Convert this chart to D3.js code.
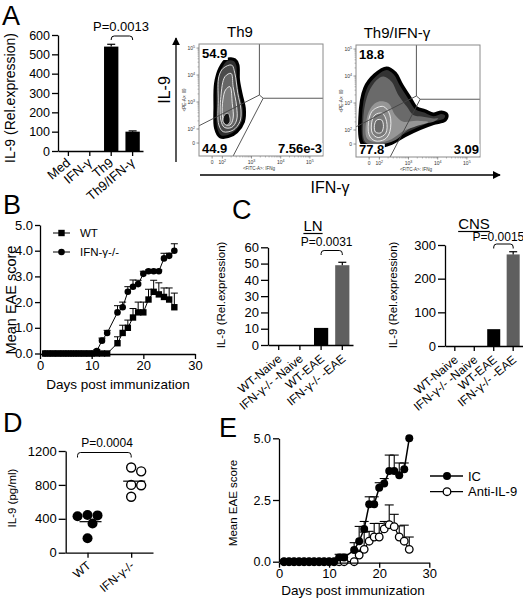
<!DOCTYPE html>
<html><head><meta charset="utf-8">
<script src="https://cdn.jsdelivr.net/npm/d3@7"></script>
<style>
body{margin:0;background:#fff;}
svg{display:block;font-family:"Liberation Sans",Arial,Helvetica,sans-serif;}
</style></head><body>
<svg id="fig" width="523" height="601"></svg>
<script>
// ---------------- DATA ----------------
// Panel A (bar)
const aCategories = ["Med", "IFN-γ", "Th9", "Th9/IFN-γ"];
const aValues = [0, 0, 540, 100];
const aErrors = [0, 0, 12, 4];
const aTicks = [0, 100, 200, 300, 400, 500, 600];
const aPText = "P=0.0013";

// Panel A (flow cytometry) – axes in log-decade units
const flowTitles = ["Th9", "Th9/IFN-γ"];
const flowQuadrants = [["54.9", "44.9", "7.56e-3"], ["18.8", "77.8", "3.09"]];
const flowXTicks = [{v: 1.65, e: null}, {v: 2, e: "2"}, {v: 3, e: "3"}, {v: 4, e: "4"}, {v: 5, e: "5"}];
const flowYTicks = [{v: 1.48, e: null}, {v: 2, e: "2"}, {v: 3, e: "3"}, {v: 4, e: "4"}, {v: 5, e: "5"}];
const flowXDomain = [1.2, 5.45];
const flowYDomain = [1.0, 5.15];
const flowGates = [
  [[1.2, 2.12], [3.27, 3.26], [3.40, 3.14], [5.45, 3.14]],
  [[3.27, 3.26], [3.27, 5.15]],
  [[3.40, 3.14], [2.37, 1.0]]
];
const th9Contours = [
  [[1.92,4.25],[2.15,4.58],[2.43,4.56],[2.53,4.37],[2.55,3.82],[2.66,3.20],[2.75,2.77],[2.72,2.27],[2.49,1.90],[2.20,1.72],[1.92,1.72],[1.77,2.03],[1.75,2.83],[1.77,3.69]],
  [[2.03,4.25],[2.32,4.37],[2.43,4.06],[2.53,3.32],[2.64,2.71],[2.60,2.27],[2.37,1.96],[2.03,1.90],[1.88,2.15],[1.86,3.07],[1.88,3.94]],
  [[2.09,3.94],[2.30,4.06],[2.37,3.57],[2.49,2.83],[2.49,2.33],[2.32,2.06],[2.07,2.06],[1.95,2.33],[1.95,3.20]],
  [[2.11,3.45],[2.26,3.57],[2.34,2.95],[2.37,2.40],[2.26,2.15],[2.07,2.19],[2.00,2.52],[2.02,3.08]],
  [[2.07,2.52],[2.20,2.58],[2.26,2.27],[2.15,2.15],[2.03,2.27]]
];
const th9IfnContours = [
  [[2.25,4.29],[2.54,4.10],[2.76,3.67],[3.05,3.18],[3.28,2.81],[3.56,2.71],[3.85,2.58],[4.13,2.66],[4.31,2.56],[4.25,2.37],[3.85,2.25],[3.39,2.06],[2.88,1.80],[2.42,1.52],[1.85,1.38],[1.42,1.50],[1.34,2.43],[1.51,3.55],[1.85,4.04]],
  [[2.14,3.98],[2.42,3.79],[2.65,3.30],[2.94,2.87],[3.16,2.56],[3.45,2.50],[3.85,2.43],[4.02,2.43],[3.85,2.31],[3.39,2.23],[2.99,2.02],[2.54,1.62],[1.96,1.46],[1.52,1.56],[1.45,2.43],[1.62,3.36],[1.91,3.85]],
  [[1.96,3.05],[2.31,2.99],[2.54,2.56],[2.82,2.31],[3.28,2.34],[3.68,2.29],[3.28,2.15],[2.82,1.96],[2.42,1.66],[1.96,1.55],[1.58,1.69],[1.57,2.43],[1.74,2.87]],
  [[1.79,2.74],[2.14,2.87],[2.36,2.56],[2.36,1.94],[2.19,1.66],[1.85,1.60],[1.65,1.82],[1.65,2.43]],
  [[1.85,2.56],[2.10,2.62],[2.25,2.31],[2.22,1.88],[1.96,1.72],[1.76,1.88],[1.74,2.29]],
  [[1.91,2.37],[2.08,2.37],[2.14,2.13],[2.06,1.90],[1.87,1.92],[1.83,2.16]]
];

// Panel B
const bDays  = [1,2,3,4,5,6,7,8,9,10,11,12,13,15,16,17,18,19,20,21,22,23,24,25,26];
const bWT    = [0,0,0,0,0,0,0,0,0,0,0,0,0,0.4,0.8,1.0,1.4,1.6,1.6,2.1,2.4,2.3,2.2,2.1,1.8];
const bWTErr = [0,0,0,0,0,0,0,0,0,0,0,0,0,0.25,0.3,0.3,0.35,0.4,0.4,0.4,0.45,0.45,0.35,0.45,0.55];
const bKO    = [0,0,0,0,0,0,0,0,0,0,0.1,0.5,0.8,1.6,1.8,2.4,2.6,2.7,3.1,3.2,3.2,3.2,3.7,3.8,4.0];
const bKOErr = [0,0,0,0,0,0,0,0,0,0,0.05,0.1,0.1,0.26,0.2,0.2,0.26,0.15,0.1,0.05,0.05,0.05,0.2,0.1,0.27];
const bSeries = ["WT", "IFN-γ-/-"];
const bXTicks = [0, 10, 20, 30];
const bYTicks = [0, 1, 2, 3, 4, 5];

// Panel C
const cCategories = ["WT-Naive", "IFN-γ-/- -Naive", "WT-EAE", "IFN-γ-/- -EAE"];
const cLN = [0, 0, 10.5, 49];
const cLNErr = [0, 0, 0, 1.8];
const cLNTicks = [0, 10, 20, 30, 40, 50, 60];
const cCNS = [0, 0, 50, 272];
const cCNSErr = [0, 0, 0, 8];
const cCNSTicks = [0, 100, 200, 300];
const cPLN = "P=0.0031";
const cPCNS = "P=0.0015";

// Panel D
const dGroups = ["WT", "IFN-γ-/-"];
const dWT = [445, 440, 430, 345, 170];
const dKO = [1005, 960, 800, 795, 660];
const dTicks = [0, 400, 800, 1200];
const dPText = "P=0.0004";

// Panel E
const eDays     = [1,2,3,4,5,6,7,8,9,10,11,12,13,15,16,17,18,19,20,21,22,23,24,25,26];
const eIC       = [0,0,0,0,0,0,0,0,0,0,0,0.17,0.17,0.47,0.83,1.33,2.33,2.33,3.0,3.17,3.67,3.67,3.5,3.75,5.0];
const eICErr    = [0,0,0,0,0,0,0,0,0,0,0,0.13,0.13,0.3,0.6,0.3,0.3,0.3,0.2,0.2,0.65,0.65,0.5,0.25,0];
const eAnti     = [0,0,0,0,0,0,0,0,0,0,0,0,0,0,0.27,0.5,0.83,1.0,1.0,1.33,1.5,1.42,1.0,0.83,0.5];
const eAntiErr  = [0,0,0,0,0,0,0,0,0,0,0,0,0,0,0.2,0.7,0.4,0.55,0.55,0.3,0.8,0.5,0.45,0.65,0.5];
const eSeries = ["IC", "Anti-IL-9"];
const eXTicks = [0, 10, 20, 30];
const eYTicks = [0, 2.5, 5.0];

// ---------------- DRAWING ----------------
const svg = d3.select("#fig");

function styleAxis(g, fs) {
  g.selectAll("path.domain").attr("stroke", "#000").attr("stroke-width", 1.3);
  g.selectAll(".tick line").attr("stroke", "#000").attr("stroke-width", 1.3);
  g.selectAll(".tick text").attr("font-size", fs).attr("fill", "#000")
    .attr("font-family", "Liberation Sans, Arial, Helvetica, sans-serif");
}
function panelLabel(t, x, y) {
  svg.append("text").attr("x", x).attr("y", y).attr("font-size", 27).text(t);
}
function yTitle(t, x, y, fs) {
  svg.append("text").attr("transform", `translate(${x},${y}) rotate(-90)`)
    .attr("text-anchor", "middle").attr("font-size", fs).text(t);
}
function rotLabels(scale, labels, axisY, fs, dx, dy) {
  labels.forEach(l => {
    const x = scale(l) + (scale.bandwidth ? scale.bandwidth() / 2 : 0);
    svg.append("text").attr("transform", `translate(${x + dx},${axisY + dy}) rotate(-40)`)
      .attr("text-anchor", "end").attr("font-size", fs).text(l);
  });
}
function bracket(x1, x2, y, h) {
  const r = 3;
  const p = d3.path();
  p.moveTo(x1, y + h);
  p.lineTo(x1, y + r);
  p.quadraticCurveTo(x1, y, x1 + r, y);
  p.lineTo(x2 - r, y);
  p.quadraticCurveTo(x2, y, x2, y + r);
  p.lineTo(x2, y + h);
  svg.append("path").attr("d", p.toString()).attr("fill", "none").attr("stroke", "#000").attr("stroke-width", 1);
}
function errBars(g, xs, ys, es, xf, yf, cap, w) {
  xs.forEach((x, i) => {
    if (!es[i]) return;
    const cx = xf(x), y0 = yf(ys[i]), y1 = yf(ys[i] + es[i]);
    g.append("line").attr("x1", cx).attr("x2", cx).attr("y1", y0).attr("y2", y1).attr("stroke", "#000").attr("stroke-width", w);
    g.append("line").attr("x1", cx - cap).attr("x2", cx + cap).attr("y1", y1).attr("y2", y1).attr("stroke", "#000").attr("stroke-width", w);
  });
}

// ===== Panel A: bar chart =====
panelLabel("A", 2, 25);
const yA = d3.scaleLinear().domain([0, 600]).range([151, 35]);
const xA = d3.scaleBand().domain(aCategories).range([58, 143]).paddingInner(0.33).paddingOuter(0.15);
const gA = svg.append("g");
aCategories.forEach((c, i) => {
  if (!aValues[i]) return;
  gA.append("rect").attr("x", xA(c)).attr("width", xA.bandwidth())
    .attr("y", yA(aValues[i])).attr("height", yA(0) - yA(aValues[i])).attr("fill", "#000");
});
errBars(gA, aCategories, aValues, aErrors, c => xA(c) + xA.bandwidth() / 2, yA, 4, 1.2);
const axAy = svg.append("g").attr("transform", "translate(58,0)")
  .call(d3.axisLeft(yA).tickValues(aTicks).tickSize(6).tickSizeOuter(0).tickPadding(2));
styleAxis(axAy, 12.5);
const axAx = svg.append("g").attr("transform", "translate(0,151)")
  .call(d3.axisBottom(xA).tickSize(5).tickSizeOuter(0).tickFormat(""));
styleAxis(axAx, 12);
rotLabels(xA, aCategories, 151, 13, 3, 13);
yTitle("IL-9 (Rel.expression)", 15, 98, 14);
bracket(xA("Th9") + xA.bandwidth() / 2, xA("Th9/IFN-γ") + xA.bandwidth() / 2, 36, 4);
svg.append("text").attr("x", 121).attr("y", 31).attr("text-anchor", "middle").attr("font-size", 13).text(aPText);

// ===== Panel A: flow plots =====
const flowW = 124, flowH = 112;
function flowPlot(ox, oy, contours, fills, strokes, sw, quad, title) {
  const fx = d3.scaleLinear().domain(flowXDomain).range([ox, ox + flowW]);
  const fy = d3.scaleLinear().domain(flowYDomain).range([oy + flowH, oy]);
  const g = svg.append("g");
  const cid = "clip" + ox;
  g.append("clipPath").attr("id", cid).append("rect").attr("x", ox).attr("y", oy).attr("width", flowW).attr("height", flowH);
  const cg = g.append("g").attr("clip-path", `url(#${cid})`);
  const line = d3.line().x(d => fx(d[0])).y(d => fy(d[1])).curve(d3.curveCatmullRomClosed.alpha(0.5));
  contours.forEach((c, i) => {
    cg.append("path").attr("d", line(c)).attr("fill", fills[i]).attr("stroke", strokes[i])
      .attr("stroke-width", sw[i]).attr("stroke-linejoin", "round");
  });
  const gl = d3.line().x(d => fx(d[0])).y(d => fy(d[1]));
  flowGates.forEach(gp => cg.append("path").attr("d", gl(gp)).attr("fill", "none").attr("stroke", "#444").attr("stroke-width", 0.9));
  g.append("rect").attr("x", ox).attr("y", oy).attr("width", flowW).attr("height", flowH)
    .attr("fill", "none").attr("stroke", "#8a8a8a").attr("stroke-width", 1);
  // ticks
  flowXTicks.forEach(t => {
    const x = fx(t.v);
    g.append("line").attr("x1", x).attr("x2", x).attr("y1", oy + flowH).attr("y2", oy + flowH + 2.5).attr("stroke", "#666").attr("stroke-width", 0.7);
    const tx = g.append("text").attr("x", x).attr("y", oy + flowH + 8).attr("text-anchor", "middle").attr("font-size", 5).attr("fill", "#333");
    if (t.e === null) tx.text("0"); else { tx.text("10"); tx.append("tspan").attr("dy", -2).attr("font-size", 3.6).text(t.e); }
  });
  [2, 3, 4].forEach(d => [2, 3, 4, 5, 6, 7, 8, 9].forEach(k => {
    const x = fx(d + Math.log10(k));
    g.append("line").attr("x1", x).attr("x2", x).attr("y1", oy + flowH).attr("y2", oy + flowH + 1.5).attr("stroke", "#777").attr("stroke-width", 0.5);
  }));
  flowYTicks.forEach(t => {
    const y = fy(t.v);
    g.append("line").attr("x1", ox).attr("x2", ox - 2.5).attr("y1", y).attr("y2", y).attr("stroke", "#666").attr("stroke-width", 0.7);
    const tx = g.append("text").attr("x", ox - 4).attr("y", y + 1.8).attr("text-anchor", "end").attr("font-size", 5).attr("fill", "#333");
    if (t.e === null) tx.text("0"); else { tx.text("10"); tx.append("tspan").attr("dy", -2).attr("font-size", 3.6).text(t.e); }
  });
  [2, 3, 4].forEach(d => [2, 3, 4, 5, 6, 7, 8, 9].forEach(k => {
    const y = fy(d + Math.log10(k));
    g.append("line").attr("x1", ox).attr("x2", ox - 1.5).attr("y1", y).attr("y2", y).attr("stroke", "#777").attr("stroke-width", 0.5);
  }));
  g.append("text").attr("transform", `translate(${ox - 13},${oy + flowH / 2}) rotate(-90)`).attr("text-anchor", "middle")
    .attr("font-size", 4.5).attr("fill", "#333").text("<PE-A>: Il9");
  g.append("text").attr("x", ox + flowW / 2 - 2).attr("y", oy + flowH + 14).attr("text-anchor", "middle")
    .attr("font-size", 4.5).attr("fill", "#333").text("<FITC-A>: IFNg");
  // quadrant numbers with white backing
  const qPos = [[ox + 3, oy + 14, "start"], [ox + 3, oy + 109, "start"], [ox + flowW - 1, oy + 109, "end"]];
  qPos.forEach((q, i) => {
    const bg = g.append("rect").attr("fill", "#fff");
    const t = g.append("text").attr("x", q[0]).attr("y", q[1]).attr("text-anchor", q[2])
      .attr("font-size", 13).attr("font-weight", "bold").text(quad[i]);
    const bb = t.node().getBBox();
    bg.attr("x", bb.x - 0.5).attr("y", bb.y + 2).attr("width", bb.width + 1).attr("height", bb.height - 3);
  });
  g.append("text").attr("x", ox + 41).attr("y", oy - 7).attr("text-anchor", "middle").attr("font-size", 15).text(title);
}
flowPlot(199, 44, th9Contours,
  ["#303030", "#4a4a4a", "#666", "#7a7a7a", "#151515"],
  ["#000", "#e8e8e8", "#eee", "#f2f2f2", "#ddd"], [3.2, 0.9, 0.9, 0.9, 0.8],
  flowQuadrants[0], flowTitles[0]);
flowPlot(356, 45, th9IfnContours,
  ["#333", "#6a6a6a", "#969696", "#8c8c8c", "#7a7a7a", "#6a6a6a"],
  ["#000", "none", "none", "#f4f4f4", "#f4f4f4", "#f4f4f4"], [3.6, 0, 0, 0.9, 0.9, 0.9],
  flowQuadrants[1], flowTitles[1]);

// arrows
const defs = svg.append("defs");
defs.append("marker").attr("id", "arrow").attr("viewBox", "0 0 10 10").attr("refX", 9).attr("refY", 5)
  .attr("markerWidth", 8).attr("markerHeight", 8).attr("markerUnits", "userSpaceOnUse").attr("orient", "auto")
  .append("path").attr("d", "M0,0 L10,5 L0,10 Z").attr("fill", "#000");
svg.append("line").attr("x1", 176).attr("x2", 176).attr("y1", 162).attr("y2", 38).attr("stroke", "#000").attr("stroke-width", 1.3).attr("marker-end", "url(#arrow)");
svg.append("line").attr("x1", 200).attr("x2", 500).attr("y1", 175).attr("y2", 175).attr("stroke", "#000").attr("stroke-width", 1.3).attr("marker-end", "url(#arrow)");
yTitle("IL-9", 170, 90, 16);
svg.append("text").attr("x", 330).attr("y", 193).attr("text-anchor", "middle").attr("font-size", 16).text("IFN-γ");

// ===== Panel B =====
panelLabel("B", 3, 214);
const xB = d3.scaleLinear().domain([0, 30]).range([40, 195]);
const yB = d3.scaleLinear().domain([0, 5]).range([353.5, 225]);
const gB = svg.append("g");
errBars(gB, bDays, bWT, bWTErr, xB, yB, 3.5, 1);
errBars(gB, bDays, bKO, bKOErr, xB, yB, 3.5, 1);
const lineB = (vals) => d3.line().x((d, i) => xB(bDays[i])).y((d) => yB(d))(vals);
gB.append("path").attr("d", lineB(bWT)).attr("fill", "none").attr("stroke", "#000").attr("stroke-width", 1);
gB.append("path").attr("d", lineB(bKO)).attr("fill", "none").attr("stroke", "#000").attr("stroke-width", 1);
bDays.forEach((d, i) => {
  gB.append("rect").attr("x", xB(d) - 3.2).attr("y", yB(bWT[i]) - 3.2).attr("width", 6.4).attr("height", 6.4).attr("fill", "#000");
  gB.append("circle").attr("cx", xB(d)).attr("cy", yB(bKO[i])).attr("r", 3.3).attr("fill", "#000");
});
const axBx = svg.append("g").attr("transform", "translate(0,354)")
  .call(d3.axisBottom(xB).tickValues(bXTicks).tickSize(5).tickSizeOuter(0).tickPadding(2));
styleAxis(axBx, 13);
const axBy = svg.append("g").attr("transform", "translate(40,0)")
  .call(d3.axisLeft(yB).tickValues(bYTicks).tickSize(5).tickSizeOuter(0).tickPadding(2));
styleAxis(axBy, 13);
yTitle("Mean EAE score", 16, 300, 14.5);
svg.append("text").attr("x", 118).attr("y", 389).attr("text-anchor", "middle").attr("font-size", 13.5).text("Days post immunization");
// legend B
[[233, "rect"], [252, "circle"]].forEach((l, i) => {
  svg.append("line").attr("x1", 53).attr("x2", 70).attr("y1", l[0]).attr("y2", l[0]).attr("stroke", "#000").attr("stroke-width", 1);
  if (l[1] === "rect") svg.append("rect").attr("x", 58.3).attr("y", l[0] - 3.2).attr("width", 6.4).attr("height", 6.4).attr("fill", "#000");
  else svg.append("circle").attr("cx", 61.5).attr("cy", l[0]).attr("r", 3.3).attr("fill", "#000");
  svg.append("text").attr("x", 80).attr("y", l[0] + 4).attr("font-size", 11.5).text(bSeries[i]);
});

// ===== Panel C =====
panelLabel("C", 232, 219);
function cBars(vals, errs, ticks, domMax, x0, x1, yTop, yBot, pText, titleTxt, titleX, titleY, pY, brY, yTitleX) {
  const y = d3.scaleLinear().domain([0, domMax]).range([yBot, yTop]);
  const x = d3.scaleBand().domain(cCategories).range([x0, x1]).paddingInner(0.33).paddingOuter(0.17);
  const g = svg.append("g");
  const colors = ["#000", "#000", "#000", "#5f5f5f"];
  cCategories.forEach((c, i) => {
    if (!vals[i]) return;
    g.append("rect").attr("x", x(c)).attr("width", x.bandwidth()).attr("y", y(vals[i]))
      .attr("height", y(0) - y(vals[i])).attr("fill", colors[i]);
  });
  errBars(g, cCategories, vals, errs, c => x(c) + x.bandwidth() / 2, y, 4, 1.2);
  const ay = svg.append("g").attr("transform", `translate(${x0},0)`)
    .call(d3.axisLeft(y).tickValues(ticks).tickSize(7).tickSizeOuter(0).tickPadding(2));
  styleAxis(ay, 13);
  const ax = svg.append("g").attr("transform", `translate(0,${yBot})`)
    .call(d3.axisBottom(x).tickSize(5).tickSizeOuter(0).tickFormat(""));
  styleAxis(ax, 12);
  rotLabels(x, cCategories, yBot, 12, 4, 15);
  yTitle("IL-9 (Rel.expression)", yTitleX, 295, 11.5);
  const t = svg.append("text").attr("x", titleX).attr("y", titleY).attr("text-anchor", "middle").attr("font-size", 15).text(titleTxt);
  const tw = t.node().getComputedTextLength();
  svg.append("line").attr("x1", titleX - tw / 2).attr("x2", titleX + tw / 2).attr("y1", titleY + 2.5).attr("y2", titleY + 2.5).attr("stroke", "#000").attr("stroke-width", 1.2);
  const c3 = x(cCategories[2]) + x.bandwidth() / 2, c4 = x(cCategories[3]) + x.bandwidth() / 2;
  bracket(c3, c4, brY, 4.5);
  svg.append("text").attr("x", (c3 + c4) / 2 - 5).attr("y", pY).attr("text-anchor", "middle").attr("font-size", 12).text(pText);
}
cBars(cLN, cLNErr, cLNTicks, 60, 268, 353, 247.3, 345, cPLN, "LN", 313, 231, 246, 250.5, 225);
cBars(cCNS, cCNSErr, cCNSTicks, 300, 445, 523, 245, 346, cPCNS, "CNS", 474, 229, 240.5, 244, 397);

// ===== Panel D =====
panelLabel("D", 3, 432);
const yD = d3.scaleLinear().domain([0, 1200]).range([552.7, 451]);
const xD = d3.scalePoint().domain(dGroups).range([65.7, 153]).padding(0.5);
function dodge(values, r, cx) {
  const placed = [];
  const order = values.map((v, i) => ({v, i})).sort((a, b) => b.v - a.v);
  order.forEach(o => {
    const py = yD(o.v);
    const cands = [0];
    for (let s = 1; s < 12; s++) cands.push(s * 2.5, -s * 2.5);
    let off = 0;
    for (const c of cands) {
      if (placed.every(p => Math.hypot(p.x - (cx + c), p.y - py) >= 2 * r * 0.9)) { off = c; break; }
    }
    placed.push({x: cx + off, y: py});
  });
  return placed;
}
const gD = svg.append("g");
[[dWT, true], [dKO, false]].forEach((s, gi) => {
  const cx = xD(dGroups[gi]);
  dodge(s[0], 5, cx).forEach(p => {
    gD.append("circle").attr("cx", p.x).attr("cy", p.y).attr("r", s[1] ? 5 : 4.5)
      .attr("fill", s[1] ? "#000" : "#fff").attr("stroke", "#000").attr("stroke-width", s[1] ? 0 : 1.4);
  });
  const m = d3.mean(s[0]);
  gD.append("line").attr("x1", cx - 8).attr("x2", cx + 14).attr("y1", yD(m)).attr("y2", yD(m)).attr("stroke", "#000").attr("stroke-width", 1.2);
});
const axDy = svg.append("g").attr("transform", "translate(65.7,0)")
  .call(d3.axisLeft(yD).tickValues(dTicks).tickFormat(d3.format("d")).tickSize(7).tickSizeOuter(0).tickPadding(2));
styleAxis(axDy, 13);
const axDx = svg.append("g").attr("transform", "translate(0,552.7)")
  .call(d3.axisBottom(xD).tickSize(5).tickSizeOuter(0).tickFormat(""));
styleAxis(axDx, 12);
dGroups.forEach(gn => {
  svg.append("text").attr("transform", `translate(${xD(gn) + 4},${552.7 + 14}) rotate(-40)`)
    .attr("text-anchor", "end").attr("font-size", 12).text(gn);
});
yTitle("IL-9 (pg/ml)", 16, 498, 11.5);
bracket(xD(dGroups[0]) - 10, xD(dGroups[1]), 452.5, 5);
svg.append("text").attr("x", 107).attr("y", 447).attr("text-anchor", "middle").attr("font-size", 12).text(dPText);

// ===== Panel E =====
panelLabel("E", 219, 437);
const xE = d3.scaleLinear().domain([0, 30]).range([279, 429.3]);
const yE = d3.scaleLinear().domain([0, 5]).range([561.7, 438.3]);
const gE = svg.append("g");
errBars(gE, eDays, eIC, eICErr, xE, yE, 4.5, 1.1);
errBars(gE, eDays, eAnti, eAntiErr, xE, yE, 4.5, 1.1);
const lineE = (vals) => d3.line().x((d, i) => xE(eDays[i])).y(d => yE(d))(vals);
gE.append("path").attr("d", lineE(eIC)).attr("fill", "none").attr("stroke", "#000").attr("stroke-width", 1.5);
gE.append("path").attr("d", lineE(eAnti)).attr("fill", "none").attr("stroke", "#000").attr("stroke-width", 1.2);
eDays.forEach((d, i) => {
  gE.append("circle").attr("cx", xE(d)).attr("cy", yE(eAnti[i])).attr("r", 3.8).attr("fill", "#fff").attr("stroke", "#000").attr("stroke-width", 1.3);
});
eDays.forEach((d, i) => {
  gE.append("circle").attr("cx", xE(d)).attr("cy", yE(eIC[i])).attr("r", 4).attr("fill", "#000");
});
const axEx = svg.append("g").attr("transform", "translate(0,562.7)")
  .call(d3.axisBottom(xE).tickValues(eXTicks).tickSize(5).tickSizeOuter(0).tickPadding(1));
styleAxis(axEx, 13);
const axEy = svg.append("g").attr("transform", "translate(279,0)")
  .call(d3.axisLeft(yE).tickValues(eYTicks).tickFormat(d3.format(".1f")).tickSize(6).tickSizeOuter(0).tickPadding(2));
styleAxis(axEy, 12.5);
yTitle("Mean EAE score", 237, 503, 11.5);
svg.append("text").attr("x", 353).attr("y", 595).attr("text-anchor", "middle").attr("font-size", 13.5).text("Days post immunization");
[[476, true], [491.7, false]].forEach((l, i) => {
  svg.append("line").attr("x1", 430).attr("x2", 463).attr("y1", l[0]).attr("y2", l[0]).attr("stroke", "#000").attr("stroke-width", 1.3);
  svg.append("circle").attr("cx", 447).attr("cy", l[0]).attr("r", l[1] ? 4 : 3.8)
    .attr("fill", l[1] ? "#000" : "#fff").attr("stroke", "#000").attr("stroke-width", l[1] ? 0 : 1.3);
  svg.append("text").attr("x", 468).attr("y", l[0] + 4.5).attr("font-size", 13).text(eSeries[i]);
});
</script>
</body></html>
